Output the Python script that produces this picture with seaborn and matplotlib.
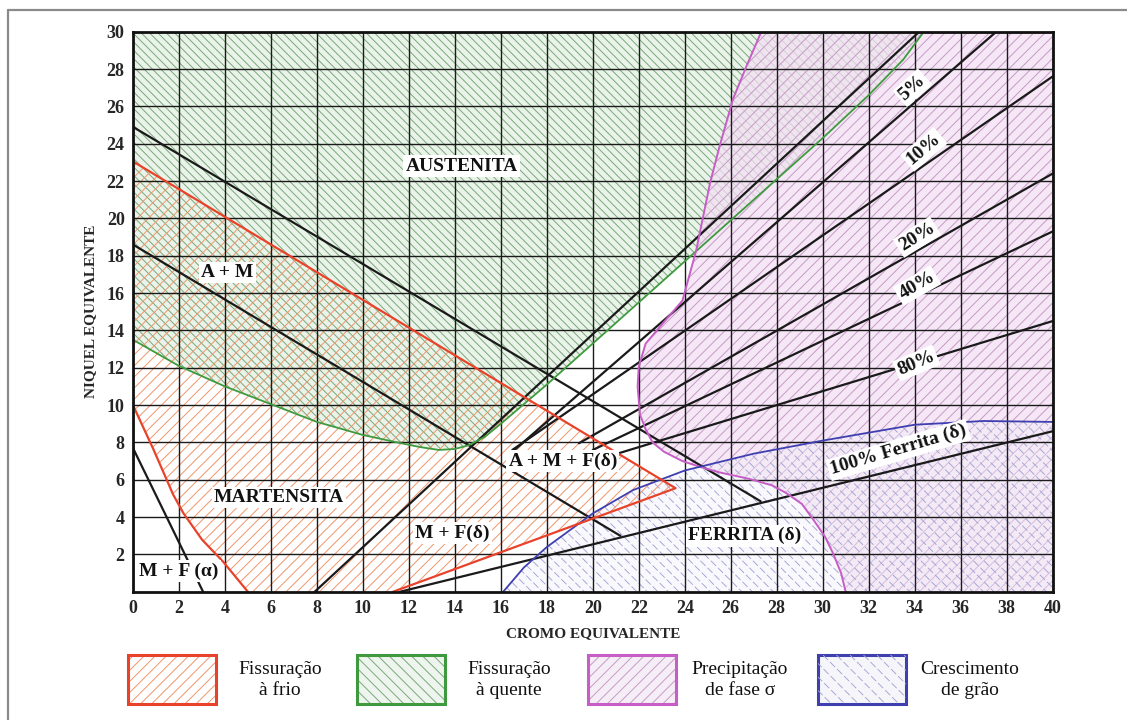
import numpy as np
import matplotlib
matplotlib.use("Agg")
import matplotlib.pyplot as plt
from matplotlib.patches import Polygon, Rectangle
from matplotlib.lines import Line2D
import seaborn as sns

sns.set_theme(style="white")
plt.rcParams["font.family"] = ["Liberation Serif", "DejaVu Serif"]
plt.rcParams["hatch.linewidth"] = 0.7

# ---- axis ticks -------------------------------------------------------
cr_ticks = list(range(0, 41, 2))
ni_ticks = list(range(2, 31, 2))

# ---- phase boundaries (Cr equivalent, Ni equivalent) --------------------
aust_am_cr = [0, 27.3]
aust_am_ni = [24.9, 4.85]
am_m_cr = [0, 21.2]
am_m_ni = [18.6, 3.0]
m_fa_cr = [0, 3.05]
m_fa_ni = [7.7, 0]
ferr0_cr = [7.9, 34.2]
ferr0_ni = [0, 30]
ferr5_cr = [16.5, 37.55]
ferr5_ni = [7.5, 30]
ferr10_cr = [16.5, 40]
ferr10_ni = [7.6, 27.6]
ferr20_cr = [19.4, 40]
ferr20_ni = [7.96, 22.4]
ferr40_cr = [20.0, 40]
ferr40_ni = [7.6, 19.3]
ferr80_cr = [20.8, 40]
ferr80_ni = [7.3, 14.5]
ferr100_cr = [11.6, 40]
ferr100_ni = [0, 8.6]

# ---- problem zones -------------------------------------------------------
cold_cr = [0, 23.6, 11.3, 5.0, 3.93, 3.0, 2.2, 1.75, 0.9, 0]
cold_ni = [23.05, 5.55, 0, 0, 1.6, 2.8, 4.2, 5.2, 7.6, 10.0]

hot_cr = [0, 2, 4, 6, 8, 10, 11.5, 12.5, 13.3, 14.0, 14.6, 15.3, 16, 18, 20, 22,
          24, 26, 28, 30, 32, 33.5, 34.4]
hot_ni = [13.5, 12.1, 11.0, 10.05, 9.1, 8.4, 8.0, 7.75, 7.6, 7.65, 7.85, 8.3, 9.0,
          11.1, 13.3, 15.5, 17.7, 19.9, 22.1, 24.3, 26.6, 28.5, 30]

sigma_cr = [27.33, 26.7, 26.1, 25.5, 25.1, 24.5, 23.9, 23.06, 22.3, 22.0, 21.95,
            22.05, 22.3, 22.6, 23.1, 23.9, 24.65, 25.5, 26.8, 27.8, 28.4, 29.1,
            29.6, 30.1, 30.45, 30.8, 31.0]
sigma_ni = [30, 28.2, 26.4, 23.8, 21.9, 18.3, 15.6, 14.4, 13.3, 12.07, 11.0,
            9.5, 8.7, 8.0, 7.5, 7.0, 6.7, 6.4, 6.05, 5.7, 5.3, 4.7,
            3.85, 2.95, 2.06, 1.0, 0]

grain_cr = [16.1, 17.0, 18.0, 20.0, 21.75, 24.0, 27.0, 30.0, 34.0, 37.0, 40.0]
grain_ni = [0, 1.3, 2.4, 4.2, 5.45, 6.5, 7.4, 8.1, 8.95, 9.15, 9.1]

zone_names = ["Fissuração\nà frio", "Fissuração\nà quente",
              "Precipitação\nde fase σ", "Crescimento\nde grão"]

# ---- styling -----------------------------------------------------------
RED, GREEN, MAG, BLUE = "#e8432a", "#3f9a3f", "#c65ec6", "#3f3fb0"
RED_H, GREEN_H, MAG_H, BLUE_H = "#f2956a", "#7aa87a", "#c79ac7", "#a2a2d4"

W, H = 1127.0, 720.0
fig = plt.figure(figsize=(W / 100, H / 100), dpi=100)
ax = fig.add_axes([0.118, 0.178, 0.816, 0.778])
ax.set_xlim(0, 40)
ax.set_ylim(0, 30)
AX_W, AX_H = 0.816 * W, 0.778 * H
DASH = (0, (8, 3))


def zone(xs, ys, closing, face, hatch_color, hatch, z):
    px = list(xs) + [c[0] for c in closing]
    py = list(ys) + [c[1] for c in closing]
    poly = Polygon(np.column_stack([px, py]), closed=True, facecolor=face,
                   edgecolor=hatch_color, hatch=hatch, linewidth=0, zorder=z)
    ax.add_patch(poly)
    return poly


def dashed_hatch(clip, spacing_px, color, z):
    """Back-slash hatch drawn as broken strokes, clipped to a patch."""
    step = spacing_px / AX_H
    for c in np.arange(0, 1 + AX_W / AX_H + step, step):
        ln = Line2D([0, 1], [c, c - AX_W / AX_H], transform=ax.transAxes,
                    color=color, linewidth=0.65, linestyle=DASH, zorder=z)
        ln.set_clip_path(clip)
        ax.add_line(ln)


zone(hot_cr, hot_ni, [(0, 30)], "#e9f3e9", GREEN_H, "\\\\\\\\", 1.0)
zone(sigma_cr, sigma_ni, [(40, 0), (40, 30)], (0.95, 0.88, 0.95, 0.75), MAG_H, "///", 1.1)
grain_poly = zone(grain_cr, grain_ni, [(40, 0)], (0.94, 0.94, 0.98, 0.4), "none", None, 1.2)
dashed_hatch(grain_poly, 10.5, BLUE_H, 1.25)
zone(cold_cr, cold_ni, [], (1, 1, 1, 0.0), RED_H, "///", 1.3)

# grid
ax.set_xticks(cr_ticks)
ax.set_yticks(ni_ticks)
ax.grid(True, color="#1a1a1a", linewidth=1.0, zorder=2)
ax.set_axisbelow(False)
for s in ax.spines.values():
    s.set_color("#111111")
    s.set_linewidth(2.0)
    s.set_zorder(6)

# phase lines
black_lines = [(aust_am_cr, aust_am_ni), (am_m_cr, am_m_ni), (m_fa_cr, m_fa_ni),
               (ferr0_cr, ferr0_ni), (ferr5_cr, ferr5_ni), (ferr10_cr, ferr10_ni),
               (ferr20_cr, ferr20_ni), (ferr40_cr, ferr40_ni), (ferr80_cr, ferr80_ni),
               (ferr100_cr, ferr100_ni)]
for xs, ys in black_lines:
    sns.lineplot(x=xs, y=ys, ax=ax, color="#1a1a1a", linewidth=1.6, sort=False,
                 estimator=None, zorder=3)

# zone outlines
sns.lineplot(x=hot_cr, y=hot_ni, ax=ax, color=GREEN, linewidth=1.3, sort=False,
             estimator=None, zorder=3.2)
sns.lineplot(x=sigma_cr, y=sigma_ni, ax=ax, color=MAG, linewidth=1.4, sort=False,
             estimator=None, zorder=3.2)
sns.lineplot(x=grain_cr, y=grain_ni, ax=ax, color=BLUE, linewidth=1.3, sort=False,
             estimator=None, zorder=3.2)
sns.lineplot(x=cold_cr[:3], y=cold_ni[:3], ax=ax, color=RED, linewidth=1.6, sort=False,
             estimator=None, zorder=3.3)
sns.lineplot(x=cold_cr[3:], y=cold_ni[3:], ax=ax, color=RED, linewidth=1.6, sort=False,
             estimator=None, zorder=3.3)

# tick labels
ax.tick_params(axis="both", length=0, pad=6, labelsize=13)
for lab in ax.get_xticklabels() + ax.get_yticklabels():
    lab.set_fontweight("bold")
ax.set_xlabel("CROMO EQUIVALENTE", fontsize=11, fontweight="bold", labelpad=7)
ax.set_ylabel("NIQUEL EQUIVALENTE", fontsize=11, fontweight="bold", labelpad=7)

box = dict(boxstyle="square,pad=0.12", facecolor="white", edgecolor="none")


def region_label(x, y, s, rot=0, size=14):
    ax.text(x, y, s, ha="center", va="center", rotation=rot, fontsize=size,
            fontweight="bold", color="#111111", zorder=5,
            rotation_mode="anchor", bbox=box)


region_label(14.3, 22.8, "AUSTENITA")
region_label(4.1, 17.1, "A + M")
region_label(6.35, 5.06, "MARTENSITA")
region_label(2.0, 1.1, "M + F (α)")
region_label(13.9, 3.15, "M + F(δ)")
region_label(18.7, 7.0, "A + M + F(δ)")
region_label(26.6, 3.0, "FERRITA (δ)")
region_label(33.9, 27.0, "5%", rot=42)
region_label(34.4, 23.7, "10%", rot=40)
region_label(34.1, 19.0, "20%", rot=32)
region_label(34.1, 16.4, "40%", rot=30)
region_label(34.07, 12.25, "80%", rot=23)
region_label(33.3, 7.6, "100% Ferrita (δ)", rot=16.5)

# legend swatches below the chart
sw_x = [128, 357, 588, 818]
sw_edge = [RED, GREEN, MAG, BLUE]
sw_hatch = [("///", RED_H), ("\\\\\\", GREEN_H), ("///", MAG_H), (None, BLUE_H)]
sw_face = ["white", "#eef5ee", "#f6eef6", "#f6f6fa"]
SW_W, SW_H, SW_TOP = 88.0, 49.0, 655.0
for x0, ec, (h, hc), fc, name in zip(sw_x, sw_edge, sw_hatch, sw_face, zone_names):
    r = Rectangle((x0 / W, 1 - (SW_TOP + SW_H) / H), SW_W / W, SW_H / H,
                  transform=fig.transFigure, facecolor=fc,
                  edgecolor=hc if h else "none", hatch=h, linewidth=0)
    fig.add_artist(r)
    if h is None:
        # broken back-slash strokes confined to the swatch
        for k in np.arange(-SW_H, SW_W + SW_H, 13.5):
            ln = Line2D([(x0 + k) / W, (x0 + k + SW_H) / W],
                        [1 - SW_TOP / H, 1 - (SW_TOP + SW_H) / H],
                        transform=fig.transFigure, color=hc, linewidth=0.65,
                        linestyle=DASH)
            ln.set_clip_path(r)
            fig.add_artist(ln)
    r2 = Rectangle((x0 / W, 1 - (SW_TOP + SW_H) / H), SW_W / W, SW_H / H,
                   transform=fig.transFigure, facecolor="none", edgecolor=ec,
                   linewidth=2.2)
    fig.add_artist(r2)
    fig.text((x0 + 152) / W, 1 - 680 / H, name, ha="center", va="center",
             fontsize=14, linespacing=1.3, color="#111111")

# outer frame
fig.add_artist(Line2D([7.5 / W, 7.5 / W], [0, 1 - 10 / H], transform=fig.transFigure,
                      color="#8a8a8a", linewidth=1.6))
fig.add_artist(Line2D([7.5 / W, 1], [1 - 10 / H, 1 - 10 / H], transform=fig.transFigure,
                      color="#8a8a8a", linewidth=1.6))

fig.savefig("out.png", dpi=100)
